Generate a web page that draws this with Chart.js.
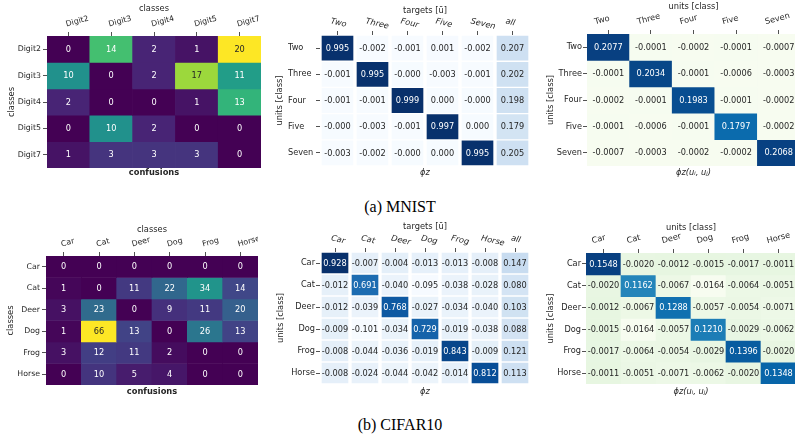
<!DOCTYPE html>
<html>
<head>
<meta charset="utf-8">
<script src="https://cdn.jsdelivr.net/npm/chart.js@4.4.0/dist/chart.umd.min.js"></script>
<style>
  html, body { margin: 0; padding: 0; background: #fff; }
  body { width: 795px; height: 436px; position: relative; overflow: hidden; }
  canvas { position: absolute; }
  .cap { position: absolute; left: 0; width: 800px; text-align: center;
         font-family: 'Liberation Serif', serif; font-size: 16px; color: #000; line-height: 18px; }
</style>
</head>
<body>
<canvas id="p1"></canvas>
<canvas id="p2"></canvas>
<canvas id="p3"></canvas>
<canvas id="p4"></canvas>
<canvas id="p5"></canvas>
<canvas id="p6"></canvas>
<div class="cap" style="top:198px">(a) MNIST</div>
<div class="cap" style="top:416px">(b) CIFAR10</div>
<script>
// ---- data ----
const mnistClasses = ['Digit2', 'Digit3', 'Digit4', 'Digit5', 'Digit7'];
const mnistUnits = ['Two', 'Three', 'Four', 'Five', 'Seven'];
const mnistTargets = ['Two', 'Three', 'Four', 'Five', 'Seven', 'all'];
const mnistConf = [
    [0, 14, 2, 1, 20],
    [10, 0, 2, 17, 11],
    [2, 0, 0, 1, 13],
    [0, 10, 2, 0, 0],
    [1, 3, 3, 3, 0]
];
const mnistPhiZ = [
    [0.995, -0.002, -0.001, 0.001, -0.002, 0.207],
    [-0.001, 0.995, -0.0002, -0.003, -0.001, 0.202],
    [-0.001, -0.001, 0.999, 0.000, -0.0002, 0.198],
    [-0.0002, -0.003, -0.001, 0.997, 0.000, 0.179],
    [-0.003, -0.002, -0.0002, 0.000, 0.995, 0.205]
];
const mnistPhiZZ = [
    [0.2077, -0.0001, -0.0002, -0.0001, -0.0007],
    [-0.0001, 0.2034, -0.0001, -0.0006, -0.0003],
    [-0.0002, -0.0001, 0.1983, -0.0001, -0.0002],
    [-0.0001, -0.0006, -0.0001, 0.1797, -0.0002],
    [-0.0007, -0.0003, -0.0002, -0.0002, 0.2068]
];

const cifarClasses = ['Car', 'Cat', 'Deer', 'Dog', 'Frog', 'Horse'];
const cifarTargets = ['Car', 'Cat', 'Deer', 'Dog', 'Frog', 'Horse', 'all'];
const cifarConf = [
    [0, 0, 0, 0, 0, 0],
    [1, 0, 11, 22, 34, 14],
    [3, 23, 0, 9, 11, 20],
    [1, 66, 13, 0, 26, 13],
    [3, 12, 11, 2, 0, 0],
    [0, 10, 5, 4, 0, 0]
];
const cifarPhiZ = [
    [0.928, -0.007, -0.004, -0.013, -0.013, -0.008, 0.147],
    [-0.012, 0.691, -0.040, -0.095, -0.038, -0.028, 0.080],
    [-0.012, -0.039, 0.768, -0.027, -0.034, -0.040, 0.103],
    [-0.009, -0.101, -0.034, 0.729, -0.019, -0.038, 0.088],
    [-0.008, -0.044, -0.036, -0.019, 0.843, -0.009, 0.121],
    [-0.008, -0.024, -0.044, -0.042, -0.014, 0.812, 0.113]
];
const cifarPhiZZ = [
    [0.1548, -0.0020, -0.0012, -0.0015, -0.0017, -0.0011],
    [-0.0020, 0.1162, -0.0067, -0.0164, -0.0064, -0.0051],
    [-0.0012, -0.0067, 0.1288, -0.0057, -0.0054, -0.0071],
    [-0.0015, -0.0164, -0.0057, 0.1210, -0.0029, -0.0062],
    [-0.0017, -0.0064, -0.0054, -0.0029, 0.1396, -0.0020],
    [-0.0011, -0.0051, -0.0071, -0.0062, -0.0020, 0.1348]
];

// ---- colour maps ----
const VIRIDIS = ['#440154', '#482475', '#414487', '#355f8d', '#2a788e', '#21918c',
                 '#22a884', '#44bf70', '#7ad151', '#bddf26', '#fde725'];
const BLUES = ['#f7fbff', '#deebf7', '#c6dbef', '#9ecae1', '#6baed6', '#4292c6',
               '#2171b5', '#08519c', '#08306b'];
const GNBU = ['#f7fcf0', '#e0f3db', '#ccebc5', '#a8ddb5', '#7bccc4', '#4eb3d3',
              '#2b8cbe', '#0868ac', '#084081'];

const hex2rgb = h => [1, 3, 5].map(k => parseInt(h.slice(k, k + 2), 16));

function colorAt(stops, t) {
    t = Math.max(0, Math.min(1, t));
    const p = t * (stops.length - 1);
    const i = Math.min(Math.floor(p), stops.length - 2);
    const f = p - i;
    const a = hex2rgb(stops[i]), b = hex2rgb(stops[i + 1]);
    const c = a.map((v, k) => Math.round(v + (b[k] - v) * f));
    return `rgb(${c[0]},${c[1]},${c[2]})`;
}

// seaborn style: dark text on light cells, white on dark
function textOn(rgb) {
    const c = rgb.match(/\d+/g).map(v => {
        v = v / 255;
        return v <= 0.03928 ? v / 12.92 : Math.pow((v + 0.055) / 1.055, 2.4);
    });
    const lum = 0.2126 * c[0] + 0.7152 * c[1] + 0.0722 * c[2];
    return lum > 0.408 ? '#262626' : '#ffffff';
}

const INK = '#262626';
Chart.defaults.font.family = "'DejaVu Sans', sans-serif";
Chart.defaults.color = INK;

// draws the number in each cell
const cellText = {
    id: 'cellText',
    afterDatasetsDraw(chart) {
        const ctx = chart.ctx;
        ctx.save();
        ctx.font = "8.2px 'DejaVu Sans'";
        ctx.textAlign = 'center';
        ctx.textBaseline = 'middle';
        chart.data.datasets.forEach((ds, i) => {
            chart.getDatasetMeta(i).data.forEach((bar, j) => {
                ctx.fillStyle = textOn(ds.backgroundColor[j]);
                ctx.fillText(ds.cells[j].toFixed(ds.digits), bar.x, (bar.y + bar.base) / 2 + 0.5);
            });
        });
        ctx.restore();
    }
};

function heatmap(id, c) {
    const cv = document.getElementById(id);
    cv.width = c.w;
    cv.height = c.h;
    cv.style.left = c.x + 'px';
    cv.style.top = c.y + 'px';

    const flat = c.values.flat();
    const lo = Math.min(...flat), hi = Math.max(...flat);

    const datasets = c.rows.map((r, i) => ({
        label: r,
        data: c.cols.map(() => [i, i + 1]),
        cells: c.values[i],
        digits: c.digits,
        backgroundColor: c.values[i].map(v => colorAt(c.cmap, (v - lo) / (hi - lo))),
        borderColor: '#ffffff',
        borderWidth: c.gap || 0,
        borderSkipped: false,
        grouped: false,
        barPercentage: 1,
        categoryPercentage: 1
    }));

    const scales = {
        x: {
            type: 'category',
            position: 'top',
            grid: { drawOnChartArea: false, offset: false, tickLength: 4, color: INK, lineWidth: 0.8 },
            border: { display: false },
            ticks: {
                autoSkip: false, minRotation: c.rot, maxRotation: c.rot,
                padding: c.xPad, labelOffset: c.xOff,
                font: { size: c.tickSize, style: c.italic ? 'italic' : 'normal' }
            },
            title: { display: true, text: c.xTitle, font: { size: 8.3 }, padding: { top: c.xtp, bottom: 0 } },
            afterFit(s) { s.height = c.xh; s.paddingLeft = 0; s.paddingRight = 0; }
        },
        y: {
            type: 'linear',
            reverse: true,
            min: 0,
            max: c.rows.length,
            afterBuildTicks(s) { s.ticks = c.rows.map((r, i) => ({ value: i + 0.5 })); },
            grid: { drawOnChartArea: false, tickLength: 4, color: INK, lineWidth: 0.8 },
            border: { display: false },
            ticks: {
                callback: (v, i) => c.rows[i],
                padding: c.yPad, crossAlign: c.farY ? 'far' : 'near',
                font: { size: c.tickSize }
            },
            title: { display: !c.farY, text: c.yTitle, font: { size: 8.3 }, padding: { top: c.ytp, bottom: 0 } },
            afterFit(s) { s.width = c.yw; s.paddingTop = 0; s.paddingBottom = 0; }
        }
    };
    if (c.farY) {
        scales.yt = {
            type: 'linear', position: 'left', weight: 1,
            grid: { display: false }, border: { display: false }, ticks: { display: false },
            title: { display: true, text: c.yTitle, font: { size: 8.3 }, padding: { top: c.ytp, bottom: 0 } },
            afterFit(s) { s.width = c.ytw; s.paddingTop = 0; s.paddingBottom = 0; }
        };
    }

    new Chart(cv, {
        type: 'bar',
        data: { labels: c.cols, datasets: datasets },
        options: {
            responsive: false,
            animation: false,
            devicePixelRatio: 1,
            events: [],
            layout: { padding: 0 },
            scales: scales,
            plugins: {
                legend: { display: false },
                tooltip: { enabled: false },
                title: {
                    display: true, position: 'bottom', fullSize: false, text: c.bottom, color: INK,
                    font: { size: 8.3, weight: c.bold ? 'bold' : 'normal', style: c.bold ? 'normal' : 'italic' },
                    padding: { top: c.btp, bottom: 0 }
                }
            }
        },
        plugins: [cellText]
    });
}

// ---- MNIST ----
heatmap('p1', {
    x: 0, y: 0, w: 261, h: 178, xh: 36, yw: 47,
    rows: mnistClasses, cols: mnistClasses, values: mnistConf, cmap: VIRIDIS, digits: 0,
    xTitle: 'classes', yTitle: 'classes', bottom: 'confusions', bold: true,
    rot: 15, xPad: 3, xOff: 0, tickSize: 7.8, yPad: 2, xtp: 4, ytp: 7, btp: 0
});
heatmap('p2', {
    x: 272, y: 0, w: 258, h: 178, xh: 35, yw: 32, ytw: 16, farY: true,
    rows: mnistUnits, cols: mnistTargets, values: mnistPhiZ, cmap: BLUES, digits: 3,
    gap: { left: 2, right: 2, top: 1, bottom: 1 },
    xTitle: 'targets [ū]', yTitle: 'units [class]', bottom: 'ϕz', italic: true,
    rot: -13, xPad: 5, xOff: -9, tickSize: 8.2, yPad: 1, xtp: 6, ytp: 3, btp: 2
});
heatmap('p3', {
    x: 540, y: 0, w: 260, h: 178, xh: 34, yw: 47,
    rows: mnistUnits, cols: mnistUnits, values: mnistPhiZZ, cmap: GNBU, digits: 4,
    xTitle: 'units [class]', yTitle: 'units [class]', bottom: 'ϕz(uᵢ, uⱼ)',
    rot: 15, xPad: 3, xOff: -11, tickSize: 8.2, yPad: 1, xtp: 2, ytp: 6, btp: 2
});

// ---- CIFAR10 ----
heatmap('p4', {
    x: 0, y: 220, w: 258, h: 177, xh: 36, yw: 46,
    rows: cifarClasses, cols: cifarClasses, values: cifarConf, cmap: VIRIDIS, digits: 0,
    xTitle: 'classes', yTitle: 'classes', bottom: 'confusions', bold: true,
    rot: 15, xPad: 3, xOff: 0, tickSize: 7.8, yPad: 2, xtp: 5, ytp: 6, btp: 2
});
heatmap('p5', {
    x: 272, y: 217, w: 258, h: 180, xh: 35, yw: 48,
    rows: cifarClasses, cols: cifarTargets, values: cifarPhiZ, cmap: BLUES, digits: 3,
    gap: { left: 2, right: 2, top: 1, bottom: 1 },
    xTitle: 'targets [ū]', yTitle: 'units [class]', bottom: 'ϕz', italic: true,
    rot: -13, xPad: 5, xOff: -6, tickSize: 8.2, yPad: 1, xtp: 5, ytp: 4, btp: 3
});
heatmap('p6', {
    x: 540, y: 218, w: 256, h: 179, xh: 35, yw: 46,
    rows: cifarClasses, cols: cifarClasses, values: cifarPhiZZ, cmap: GNBU, digits: 4,
    xTitle: 'units [class]', yTitle: 'units [class]', bottom: 'ϕz(uᵢ, uⱼ)',
    rot: 15, xPad: 3, xOff: -9, tickSize: 8.2, yPad: 1, xtp: 5, ytp: 6, btp: 3
});
</script>
</body>
</html>
